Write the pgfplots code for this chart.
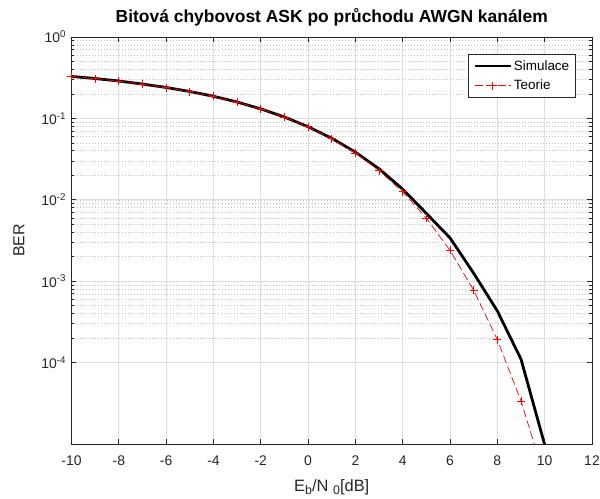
\documentclass[border=0pt]{standalone}
\usepackage{pgfplots}
\pgfplotsset{compat=1.18}
\usepackage{fontspec}
\setmainfont{Liberation Sans}

\definecolor{axgray}{rgb}{0.15,0.15,0.15}
\definecolor{gridmaj}{rgb}{0.87,0.87,0.87}
\definecolor{gridmin}{rgb}{0.76,0.76,0.76}

\newcommand{\sub}[1]{\raisebox{-3bp}{\fontsize{12.5}{14}\selectfont #1}}

% BER vs Eb/N0: simulated ASK and the theoretical curve
\pgfplotstableread{
snr ber
-10 0.328
-9  0.309
-8  0.288
-7  0.264
-6  0.240
-5  0.214
-4  0.187
-3  0.159
-2  0.131
-1  0.104
0   0.079
1   0.057
2   0.0385
3   0.0240
4   0.0135
5   0.0068
6   0.0034
7   0.00125
8   0.00043
9   0.00011
10  0.0000098
}\simtable

\pgfplotstableread{
snr ber
-10 0.3274
-9  0.3079
-8  0.2867
-7  0.2638
-6  0.2392
-5  0.2132
-4  0.1861
-3  0.1584
-2  0.1306
-1  0.1038
0   0.0786
1   0.0563
2   0.0375
3   0.0229
4   0.0125
5   0.00595
6   0.00239
7   0.000773
8   0.000191
9   0.0000336
10  0.00000387
}\theorytable

\begin{document}
\begin{tikzpicture}
\useasboundingbox (-71.5bp,-55bp) rectangle (528.5bp,444bp);
\begin{semilogyaxis}[
  scale only axis,
  width=520.5bp, height=407bp,
  xmin=-10, xmax=12,
  ymin=1e-5, ymax=1,
  xtick={-10,-8,...,12},
  ytick={1e-4,1e-3,1e-2,1e-1,1},
  yticklabels={10\textsuperscript{-4},10\textsuperscript{-3},10\textsuperscript{-2},10\textsuperscript{-1},10\textsuperscript{0}},
  /pgf/number format/assume math mode=true,
  axis line style={color=axgray, line width=0.7bp},
  every tick/.style={color=axgray, line width=0.7bp},
  major tick length=5bp,
  minor tick length=3bp,
  tick align=inside,
  ymajorgrids, yminorgrids, xmajorgrids,
  major grid style={color=gridmaj, line width=0.7bp},
  minor grid style={color=gridmin, line width=0.6bp, dash pattern=on 0.7bp off 2.3bp},
  tick label style={font=\fontsize{14}{16}\selectfont, color=axgray},
  xticklabel style={yshift=-8.5bp},
  yticklabel style={xshift=-2bp},
  title={Bitová chybovost ASK po průchodu AWGN kanálem},
  title style={font=\bfseries\fontsize{17.5}{20}\selectfont, at={(axis description cs:0.5,1)}, anchor=base, yshift=8.5bp},
  xlabel={E\sub{b}/N \sub{0}[dB]},
  xlabel style={font=\fontsize{16.5}{19}\selectfont, color=axgray, at={(axis description cs:0.5,0)}, anchor=base, yshift=-47.5bp},
  ylabel={BER},
  ylabel style={font=\fontsize{16}{19}\selectfont, color=axgray, at={(axis description cs:0,0.5)}, anchor=center, yshift=52.5bp},
  legend style={at={(1,1)}, anchor=north east, xshift=-16bp, yshift=-17bp,
    draw=axgray, line width=0.6bp, fill=white,
    font=\fontsize{13.5}{16}\selectfont,
    inner xsep=4.5bp, inner ysep=4bp, row sep=4.5bp,
    cells={anchor=west}},
  legend image code/.code={\draw[mark repeat=2,mark phase=2,#1] plot coordinates {(0bp,0bp) (18bp,0bp) (36bp,0bp)};},
]
\addplot[black, line width=2.8bp] table[x=snr, y=ber] {\simtable};
\addlegendentry{Simulace}
\addplot[red, line width=0.7bp, dash pattern=on 8bp off 3.5bp, mark=+, mark size=4bp, mark options={solid, draw=red, line width=0.9bp}] table[x=snr, y=ber] {\theorytable};
\addlegendentry{Teorie}
\end{semilogyaxis}
\end{tikzpicture}
\end{document}
